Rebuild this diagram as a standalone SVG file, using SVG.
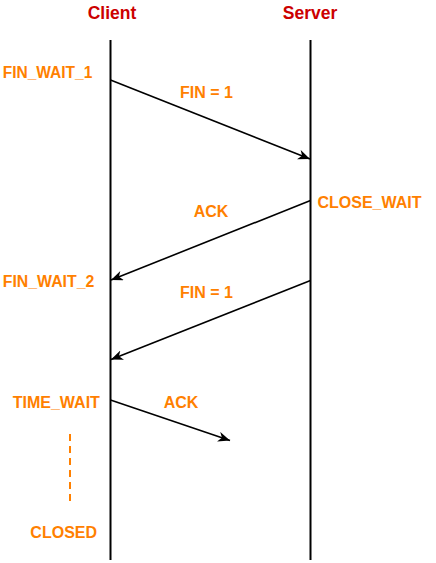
<svg xmlns="http://www.w3.org/2000/svg" width="436" height="563" viewBox="0 0 436 563">
<style>
.hdr{font-family:"Liberation Sans",Arial,sans-serif;font-weight:bold;font-size:17.5px;fill:#CC0000;text-anchor:middle}
.lbl{font-family:"Liberation Sans",Arial,sans-serif;font-weight:bold;font-size:16px;fill:#FF8000;text-anchor:middle}
.life{stroke:#000;stroke-width:2;fill:none}
.msg{stroke:#000;stroke-width:1.6;fill:none;marker-end:url(#arr)}
</style>
<defs>
<marker id="arr" markerUnits="userSpaceOnUse" markerWidth="14" markerHeight="11" refX="12" refY="5" orient="auto">
<path d="M0,0 L12,5 L0,10 L3.5,5 Z" fill="#000"/>
</marker>
</defs>
<rect width="436" height="563" fill="#fff"/>
<g id="client">
<text class="hdr" x="112" y="19.3">Client</text>
<line class="life" x1="110.5" y1="40" x2="110.5" y2="560"/>
</g>
<g id="server">
<text class="hdr" x="310" y="19.3">Server</text>
<line class="life" x1="310.5" y1="40" x2="310.5" y2="560"/>
</g>
<g id="states">
<text class="lbl" x="47.5" y="78" textLength="89.5" lengthAdjust="spacingAndGlyphs">FIN_WAIT_1</text>
<text class="lbl" x="369.5" y="208">CLOSE_WAIT</text>
<text class="lbl" x="48.5" y="287" textLength="91.5" lengthAdjust="spacingAndGlyphs">FIN_WAIT_2</text>
<text class="lbl" x="56.3" y="408">TIME_WAIT</text>
<text class="lbl" x="63.7" y="537.5">CLOSED</text>
<line x1="70" y1="434" x2="70" y2="501" stroke="#FF8000" stroke-width="2" stroke-dasharray="7 5"/>
</g>
<g id="connectors">
<line class="msg" x1="110.5" y1="80" x2="310" y2="159"/>
<line class="msg" x1="310.5" y1="200.5" x2="111" y2="280"/>
<line class="msg" x1="310.5" y1="280.5" x2="111" y2="359.5"/>
<line class="msg" x1="110.5" y1="400" x2="230" y2="440.5"/>
</g>
<g id="msg-labels">
<text class="lbl" x="206.5" y="97.5">FIN = 1</text>
<text class="lbl" x="211" y="217">ACK</text>
<text class="lbl" x="206.5" y="297.5">FIN = 1</text>
<text class="lbl" x="181" y="408">ACK</text>
</g>
</svg>
